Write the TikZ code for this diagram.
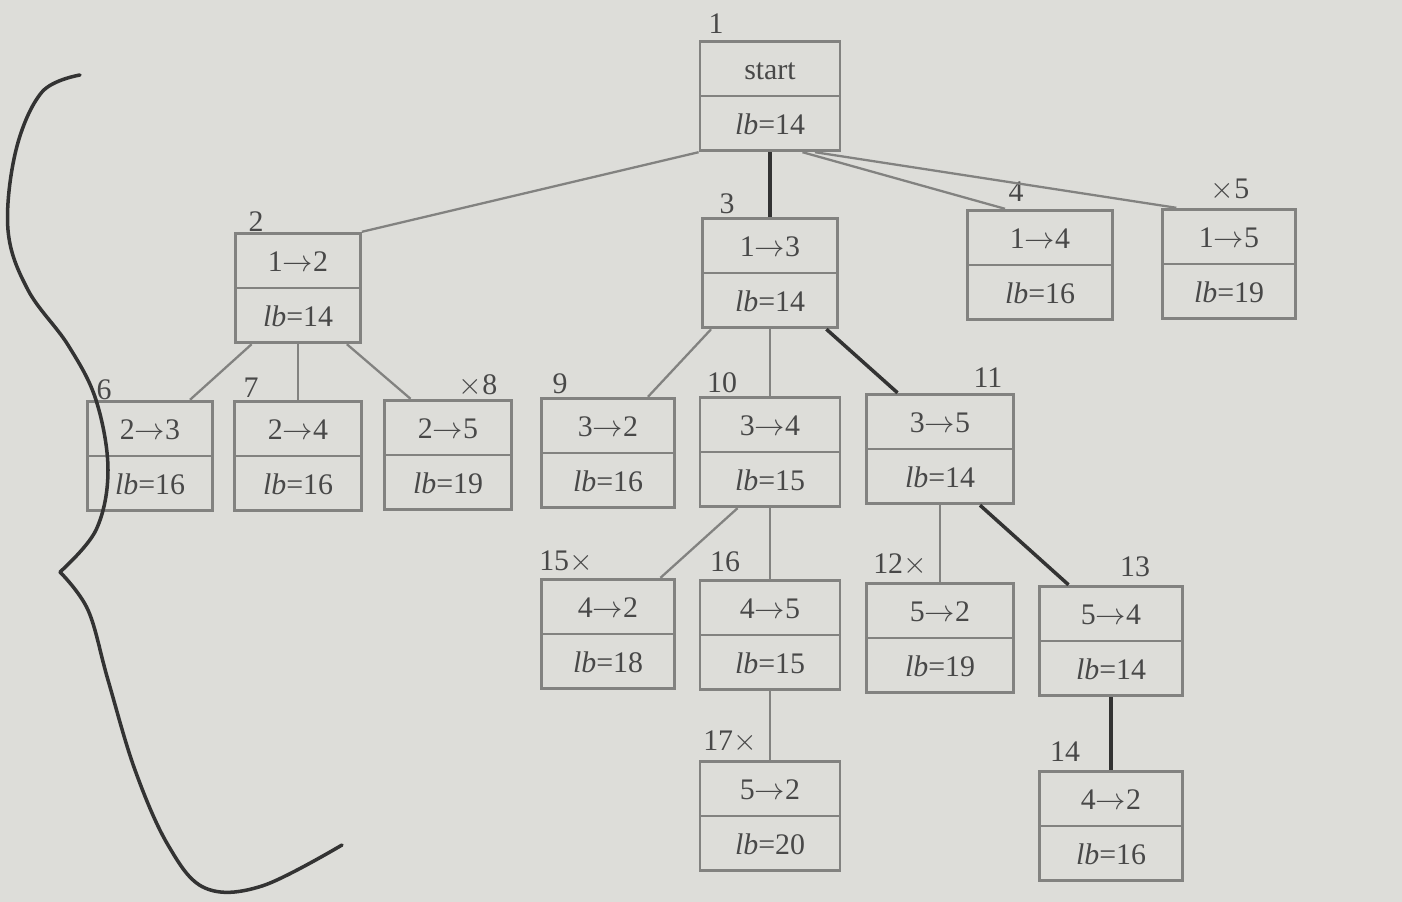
\documentclass[tikz,border=0pt]{standalone}
\usepackage{fontspec}
\setmainfont{Liberation Serif}
\usetikzlibrary{shapes.multipart, positioning}
\definecolor{paperGray}{RGB}{221,221,217}
\definecolor{boxGray}{RGB}{130,130,128}
\definecolor{inkGray}{RGB}{72,72,72}
\newcommand{\partstrut}{\rule[-0.28cm]{0pt}{1.0cm}}
\newcommand{\bbnode}[2]{\partstrut #1\nodepart{two}\partstrut\textit{lb}=#2}

\begin{document}
\begin{tikzpicture}[x=0.02cm, y=-0.02cm]
\tikzstyle{searchNode} = [rectangle split, rectangle split parts=2, draw=boxGray, line width=1.6pt, minimum width=2.7cm, inner ysep=0.02cm, text=inkGray, font=\fontsize{17}{20}\selectfont]
\tikzstyle{numLabel} = [text=inkGray, font=\fontsize{17}{20}\selectfont, inner sep=0pt]
\tikzstyle{thinEdge} = [draw=boxGray, line width=1.3pt]
\tikzstyle{bestEdge} = [draw=black!80, line width=2pt]
\tikzstyle{braceLine} = [draw=black!80, line width=2pt, line cap=round]

\fill[paperGray] (0,0) rectangle (1402,902);

\node (n1) [searchNode, minimum width=2.8cm] at (770,96) {\bbnode{start}{14}};
\node (n2) [searchNode, minimum width=2.5cm] at (298,288) {\bbnode{1$\to$2}{14}};
\node (n3) [searchNode] at (770,273) {\bbnode{1$\to$3}{14}};
\node (n4) [searchNode, minimum width=2.9cm] at (1040,265) {\bbnode{1$\to$4}{16}};
\node (n5) [searchNode, minimum width=2.65cm] at (1229,264) {\bbnode{1$\to$5}{19}};
\node (n6) [searchNode, minimum width=2.5cm] at (150,456) {\bbnode{2$\to$3}{16}};
\node (n7) [searchNode, minimum width=2.55cm] at (298,456) {\bbnode{2$\to$4}{16}};
\node (n8) [searchNode, minimum width=2.55cm] at (448,455) {\bbnode{2$\to$5}{19}};
\node (n9) [searchNode, minimum width=2.65cm] at (608,453) {\bbnode{3$\to$2}{16}};
\node (n10) [searchNode, minimum width=2.8cm] at (770,452) {\bbnode{3$\to$4}{15}};
\node (n11) [searchNode, minimum width=2.95cm] at (940,449) {\bbnode{3$\to$5}{14}};
\node (n15) [searchNode, minimum width=2.65cm] at (608,634) {\bbnode{4$\to$2}{18}};
\node (n16) [searchNode, minimum width=2.8cm] at (770,635) {\bbnode{4$\to$5}{15}};
\node (n12) [searchNode, minimum width=2.95cm] at (940,638) {\bbnode{5$\to$2}{19}};
\node (n13) [searchNode, minimum width=2.85cm] at (1111,641) {\bbnode{5$\to$4}{14}};
\node (n17) [searchNode, minimum width=2.8cm] at (770,816) {\bbnode{5$\to$2}{20}};
\node (n14) [searchNode, minimum width=2.85cm] at (1111,826) {\bbnode{4$\to$2}{16}};

\node (t1) [numLabel] at (716,24) {1};
\node (t2) [numLabel] at (256,222) {2};
\node (t3) [numLabel] at (727,204) {3};
\node (t4) [numLabel] at (1016,192) {4};
\node (t5) [numLabel] at (1230,190) {$\times$5};
\node (t6) [numLabel] at (104,390) {6};
\node (t7) [numLabel] at (251,388) {7};
\node (t8) [numLabel] at (478,386) {$\times$8};
\node (t9) [numLabel] at (560,384) {9};
\node (t10) [numLabel] at (722,383) {10};
\node (t11) [numLabel] at (988,378) {11};
\node (t15) [numLabel] at (566,562) {15$\times$};
\node (t16) [numLabel] at (725,562) {16};
\node (t12) [numLabel] at (900,565) {12$\times$};
\node (t13) [numLabel] at (1135,567) {13};
\node (t17) [numLabel] at (730,742) {17$\times$};
\node (t14) [numLabel] at (1065,752) {14};

\draw[thinEdge] (n1.south west) -- (n2.north east);
\draw[bestEdge] (n1.south) -- (n3.north);
\draw[thinEdge] ([xshift=0.65cm]n1.south) -- ([xshift=-0.7cm]n4.north);
\draw[thinEdge] ([xshift=0.9cm]n1.south) -- ([xshift=0.3cm]n5.north west);
\draw[thinEdge] ([xshift=0.35cm]n2.south west) -- ([xshift=0.8cm]n6.north);
\draw[thinEdge] (n2.south) -- (n7.north);
\draw[thinEdge] ([xshift=-0.3cm]n2.south east) -- ([xshift=-0.75cm]n8.north);
\draw[thinEdge] ([xshift=0.2cm]n3.south west) -- ([xshift=0.8cm]n9.north);
\draw[thinEdge] (n3.south) -- (n10.north);
\draw[bestEdge] ([xshift=-0.25cm]n3.south east) -- ([xshift=-0.85cm]n11.north);
\draw[thinEdge] ([xshift=-0.65cm]n10.south) -- ([xshift=1.05cm]n15.north);
\draw[thinEdge] (n10.south) -- (n16.north);
\draw[thinEdge] (n11.south) -- (n12.north);
\draw[bestEdge] ([xshift=0.8cm]n11.south) -- ([xshift=-0.85cm]n13.north);
\draw[thinEdge] (n16.south) -- (n17.north);
\draw[bestEdge] (n13.south) -- (n14.north);

\draw[braceLine] plot[smooth, tension=0.6] coordinates {(80,75) (42,92) (16,150) (8,230) (28,290) (68,345) (96,400) (108,470) (96,530) (60,572)};
\draw[braceLine] plot[smooth, tension=0.6] coordinates {(60,572) (88,610) (108,680) (135,770) (168,845) (205,888) (262,886) (342,845)};

\end{tikzpicture}
\end{document}
